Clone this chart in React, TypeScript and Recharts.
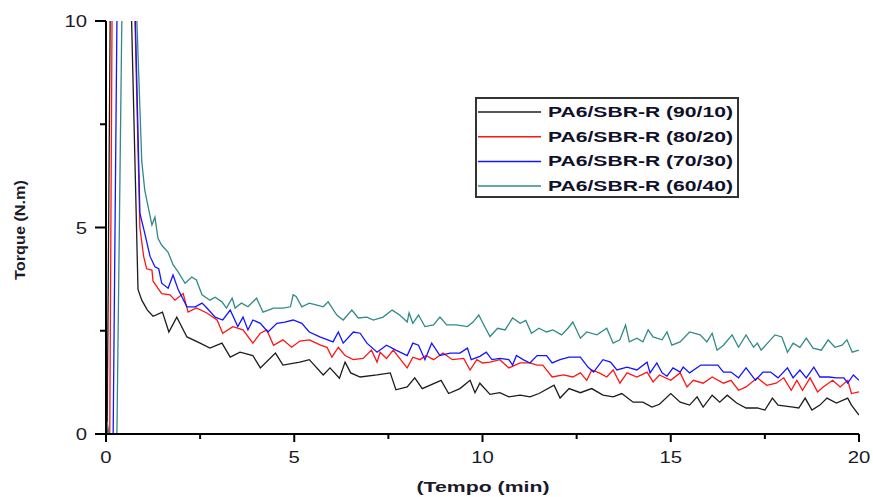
import { LineChart, Line, XAxis, YAxis, Legend } from 'recharts';

// axis ticks (minor ticks every 2.5, labels on the majors)
const X_TICKS = [0, 2.5, 5, 7.5, 10, 12.5, 15, 17.5, 20];
const Y_TICKS = [0, 2.5, 5, 7.5, 10];

const SERIES_NAMES = ['PA6/SBR-R (90/10)', 'PA6/SBR-R (80/20)', 'PA6/SBR-R (70/30)', 'PA6/SBR-R (60/40)'];
const SERIES_COLORS = ['#1c1c1c', '#ff1414', '#1414ff', '#2e8b87'];

// [tempo (min), torque (N.m)]
const torque9010: [number, number][] = [
  [0, 0], [0.03, 0], [0.11, 10], [0.12, 14], [0.66, 14], [0.68, 10], [0.85, 3.5], [0.95, 3.24], [1.1, 3.0],
  [1.25, 2.85], [1.5, 2.95], [1.67, 2.47], [1.88, 2.83], [2.15, 2.35], [2.5, 2.2], [2.76, 2.08], [3.08, 2.2],
  [3.3, 1.86], [3.56, 1.98], [3.9, 1.9], [4.1, 1.6], [4.5, 1.96], [4.7, 1.67], [5.15, 1.74], [5.4, 1.8],
  [5.77, 1.43], [5.95, 1.6], [6.2, 1.35], [6.35, 1.74], [6.5, 1.48], [6.75, 1.38], [7.2, 1.43], [7.55, 1.48],
  [7.7, 1.07], [8.0, 1.14], [8.2, 1.36], [8.4, 1.1], [8.9, 1.3], [9.1, 0.98], [9.4, 1.1], [9.67, 1.3],
  [9.8, 1.0], [9.93, 1.23], [10.2, 0.96], [10.46, 1.0], [10.7, 0.9], [11.0, 0.94], [11.26, 0.9], [11.5, 0.98],
  [11.9, 1.18], [12.06, 0.87], [12.3, 1.1], [12.6, 1.0], [12.9, 1.1], [13.2, 0.94], [13.47, 0.9], [13.7, 0.98],
  [14.0, 0.77], [14.26, 0.77], [14.5, 0.65], [14.7, 0.72], [15.0, 0.98], [15.25, 0.77], [15.5, 0.7],
  [15.7, 0.9], [15.86, 0.65], [16.1, 0.94], [16.3, 0.77], [16.5, 0.94], [16.75, 0.75], [17.0, 0.63],
  [17.3, 0.63], [17.5, 0.58], [17.7, 0.87], [17.85, 0.7], [18.25, 0.65], [18.4, 0.63], [18.57, 0.87],
  [18.75, 0.58], [18.96, 0.7], [19.15, 0.87], [19.4, 0.75], [19.7, 0.87], [19.8, 0.7], [20, 0.46],
];

const torque8020: [number, number][] = [
  [0, 0], [0.1, 0], [0.16, 10], [0.17, 14], [0.75, 14], [0.77, 10], [0.9, 5.0], [1.0, 4.3], [1.08, 4.0],
  [1.22, 3.97], [1.25, 3.7], [1.35, 3.57], [1.48, 3.4], [1.7, 3.37], [1.83, 3.24], [2.05, 3.4], [2.18, 2.95],
  [2.4, 3.05], [2.68, 2.93], [2.95, 2.76], [3.1, 2.44], [3.37, 2.6], [3.64, 2.52], [3.9, 2.2], [4.1, 2.44],
  [4.27, 2.52], [4.45, 2.15], [4.7, 2.28], [4.93, 2.1], [5.15, 2.25], [5.4, 2.28], [5.7, 2.15], [5.87, 2.1],
  [6.0, 1.86], [6.17, 2.1], [6.35, 1.9], [6.57, 1.8], [6.83, 1.83], [7.05, 2.03], [7.2, 1.74], [7.28, 1.98],
  [7.45, 1.83], [7.63, 2.03], [7.8, 1.83], [8.0, 1.6], [8.15, 1.86], [8.34, 1.8], [8.5, 1.9], [8.7, 1.8],
  [8.95, 1.96], [9.2, 1.8], [9.5, 1.83], [9.67, 1.55], [9.85, 1.8], [10.0, 1.72], [10.2, 1.74], [10.46, 1.8],
  [10.7, 1.6], [11.0, 1.72], [11.26, 1.72], [11.45, 1.67], [11.6, 1.67], [11.85, 1.38], [12.15, 1.43],
  [12.4, 1.38], [12.6, 1.48], [12.77, 1.3], [12.9, 1.55], [13.1, 1.48], [13.3, 1.38], [13.47, 1.55],
  [13.65, 1.23], [13.84, 1.48], [14.1, 1.38], [14.37, 1.5], [14.53, 1.26], [14.7, 1.43], [15.0, 1.3],
  [15.25, 1.48], [15.43, 1.14], [15.6, 1.3], [15.86, 1.23], [16.1, 1.38], [16.4, 1.23], [16.6, 1.3],
  [16.8, 1.06], [17.0, 1.14], [17.3, 1.36], [17.55, 1.18], [17.8, 1.23], [18.0, 1.36], [18.2, 1.06],
  [18.35, 1.3], [18.5, 1.06], [18.7, 1.36], [18.9, 1.02], [19.05, 1.14], [19.3, 1.3], [19.5, 1.14],
  [19.7, 1.3], [19.8, 0.98], [20, 1.02],
];

const torque7030: [number, number][] = [
  [0, 0], [0.19, 0], [0.29, 10], [0.3, 14], [0.75, 14], [0.78, 10], [0.9, 5.35], [1.03, 4.86], [1.17, 4.3],
  [1.3, 4.05], [1.4, 4.0], [1.48, 3.65], [1.65, 3.53], [1.78, 3.85], [1.92, 3.49], [2.15, 3.08], [2.37, 3.08],
  [2.55, 3.17], [2.68, 3.05], [2.9, 2.83], [3.1, 2.76], [3.3, 3.0], [3.5, 2.6], [3.64, 2.83], [3.77, 2.52],
  [3.9, 2.76], [4.1, 2.68], [4.3, 2.47], [4.54, 2.68], [4.75, 2.71], [4.97, 2.76], [5.2, 2.68], [5.4, 2.47],
  [5.68, 2.35], [6.03, 2.23], [6.17, 2.47], [6.3, 2.2], [6.57, 2.47], [6.75, 2.44], [6.93, 2.2], [7.2, 1.98],
  [7.45, 2.15], [7.7, 2.03], [8.0, 1.9], [8.15, 2.2], [8.3, 2.15], [8.47, 1.8], [8.65, 2.2], [8.87, 1.9],
  [9.14, 1.96], [9.4, 1.96], [9.6, 2.08], [9.7, 1.8], [9.93, 1.88], [10.1, 1.98], [10.25, 1.8], [10.46, 1.83],
  [10.7, 1.8], [10.8, 1.67], [10.9, 1.9], [11.08, 1.8], [11.26, 1.72], [11.45, 1.9], [11.7, 1.9], [11.85, 1.72],
  [12.06, 1.8], [12.3, 1.86], [12.6, 1.86], [12.8, 1.62], [12.95, 1.5], [13.2, 1.8], [13.4, 1.74],
  [13.57, 1.55], [13.84, 1.62], [14.1, 1.55], [14.37, 1.74], [14.45, 1.48], [14.63, 1.72], [14.77, 1.48],
  [14.9, 1.4], [15.06, 1.6], [15.25, 1.5], [15.33, 1.62], [15.5, 1.48], [15.8, 1.67], [16.05, 1.67],
  [16.25, 1.67], [16.4, 1.5], [16.6, 1.5], [16.8, 1.36], [17.0, 1.6], [17.25, 1.3], [17.45, 1.5],
  [17.65, 1.5], [17.85, 1.36], [18.1, 1.6], [18.25, 1.36], [18.43, 1.55], [18.6, 1.36], [18.8, 1.62],
  [18.96, 1.38], [19.2, 1.38], [19.4, 1.36], [19.6, 1.36], [19.7, 1.23], [19.85, 1.43], [20, 1.3],
];

const torque6040: [number, number][] = [
  [0, 0], [0.03, 0.3], [0.08, 0], [0.29, 0], [0.42, 10], [0.43, 14], [0.8, 14], [0.82, 10], [0.95, 6.6],
  [1.03, 5.9], [1.12, 5.5], [1.22, 5.06], [1.3, 5.25], [1.38, 4.74], [1.48, 4.57], [1.65, 4.4], [1.78, 4.1],
  [1.92, 3.92], [2.1, 3.65], [2.28, 3.8], [2.4, 3.73], [2.55, 3.37], [2.76, 3.24], [2.9, 3.31], [3.08, 3.2],
  [3.2, 3.05], [3.35, 3.29], [3.43, 3.05], [3.6, 3.17], [3.77, 3.08], [4.0, 3.29], [4.17, 2.95], [4.45, 3.05],
  [4.7, 3.05], [4.9, 3.08], [4.97, 3.37], [5.05, 3.33], [5.2, 3.08], [5.4, 3.17], [5.6, 3.12], [5.77, 3.08],
  [5.9, 3.2], [6.13, 2.88], [6.3, 2.76], [6.53, 3.0], [6.7, 2.81], [6.93, 2.83], [7.1, 2.76], [7.36, 2.83],
  [7.6, 3.0], [7.8, 2.88], [8.0, 2.71], [8.05, 2.93], [8.15, 2.68], [8.3, 2.88], [8.47, 2.6], [8.7, 2.64],
  [8.87, 2.83], [9.05, 2.64], [9.3, 2.64], [9.6, 2.6], [9.75, 2.71], [9.9, 2.88], [10.07, 2.58], [10.2, 2.36],
  [10.4, 2.56], [10.6, 2.52], [10.8, 2.81], [11.0, 2.68], [11.15, 2.75], [11.3, 2.44], [11.5, 2.56],
  [11.7, 2.47], [11.87, 2.52], [12.1, 2.4], [12.27, 2.56], [12.4, 2.71], [12.6, 2.32], [12.77, 2.47],
  [13.04, 2.4], [13.3, 2.56], [13.47, 2.2], [13.65, 2.28], [13.8, 2.64], [13.9, 2.23], [14.1, 2.32],
  [14.26, 2.23], [14.4, 2.52], [14.53, 2.35], [14.77, 2.28], [14.9, 2.47], [15.03, 2.15], [15.25, 2.23],
  [15.5, 2.47], [15.78, 2.4], [15.96, 2.23], [16.1, 2.44], [16.23, 2.03], [16.4, 2.15], [16.63, 2.4],
  [16.8, 2.1], [17.0, 2.4], [17.2, 2.1], [17.3, 2.2], [17.4, 2.03], [17.6, 2.23], [17.77, 2.4], [17.95, 2.35],
  [18.1, 1.98], [18.25, 2.2], [18.43, 2.1], [18.6, 2.32], [18.78, 2.08], [19.0, 2.03], [19.18, 2.28],
  [19.36, 2.1], [19.55, 2.15], [19.68, 2.28], [19.82, 1.98], [20, 2.03],
];

const SERIES = [torque9010, torque8020, torque7030, torque6040];
const toRows = (pts: [number, number][]) => pts.map(([t, v]) => ({ t, v }));

const TEXT = '#1a1a2a';
const FONT = '"Liberation Sans", Arial, sans-serif';

function XTick({ x, y, payload }: any) {
  const v = payload.value;
  const major = v % 5 === 0;
  const label = String(v);
  return (
    <g>
      <line x1={x} x2={x} y1={y} y2={y + (major ? 8 : 5)} stroke="#000" strokeWidth={2} />
      {major && (
        <text x={x} y={y + 29} textAnchor="middle" fontSize={16} fill={TEXT} fontFamily={FONT}
          textLength={label.length * 11.3} lengthAdjust="spacingAndGlyphs">{label}</text>
      )}
    </g>
  );
}

function YTick({ x, y, payload }: any) {
  const v = payload.value;
  const major = v % 5 === 0;
  const label = String(v);
  return (
    <g>
      <line x1={x - (major ? 11 : 6)} x2={x} y1={y} y2={y} stroke="#000" strokeWidth={2} />
      {major && (
        <text x={x - 19} y={y + 6} textAnchor="end" fontSize={16} fill={TEXT} fontFamily={FONT}
          textLength={label.length * 11.3} lengthAdjust="spacingAndGlyphs">{label}</text>
      )}
    </g>
  );
}

const XTitle = () => (
  <text x={483} y={492} textAnchor="middle" fontSize={14} fontWeight="bold" fill={TEXT} fontFamily={FONT}
    textLength={133} lengthAdjust="spacingAndGlyphs">(Tempo (min)</text>
);

const YTitle = () => (
  <text x={0} y={0} transform="translate(25,230) rotate(-90)" textAnchor="middle" fontSize={14} fontWeight="bold"
    fill={TEXT} fontFamily={FONT} textLength={100} lengthAdjust="spacingAndGlyphs">Torque (N.m)</text>
);

function LegendBox() {
  return (
    <svg width={265} height={102} style={{ display: 'block' }}>
      <rect x={1} y={1} width={262} height={99} fill="#fff" stroke="#333" strokeWidth={2} />
      {SERIES_NAMES.map((name, i) => {
        const cy = 15 + i * 24.7;
        return (
          <g key={name}>
            <line x1={3} x2={66} y1={cy} y2={cy} stroke={SERIES_COLORS[i]} strokeWidth={1.5} />
            <text x={73} y={cy + 5} fontSize={14} fontWeight="bold" fill="#10102a" fontFamily={FONT}
              textLength={185} lengthAdjust="spacingAndGlyphs">{name}</text>
          </g>
        );
      })}
    </svg>
  );
}

export default function App() {
  return (
    <div style={{ position: 'absolute', left: 0, top: 0, background: '#fff' }}>
      <LineChart width={873} height={497} margin={{ top: 21, right: 14, bottom: 23, left: 6 }}
        style={{ fontFamily: FONT }}>
        <XAxis dataKey="t" type="number" domain={[0, 20]} ticks={X_TICKS} interval={0} height={40}
          allowDataOverflow axisLine={{ stroke: '#000', strokeWidth: 2 }} tickLine={false}
          tickSize={0} tickMargin={0} tick={<XTick />} label={XTitle} />
        <YAxis type="number" domain={[0, 10]} ticks={Y_TICKS} interval={0} width={100}
          allowDataOverflow axisLine={{ stroke: '#000', strokeWidth: 2 }} tickLine={false}
          tickSize={0} tickMargin={0} tick={<YTick />} label={YTitle} />
        <Legend layout="vertical" align="center" verticalAlign="middle" width={265} height={102}
          wrapperStyle={{ left: 475, top: 97 }} content={() => <LegendBox />} />
        {SERIES.map((pts, i) => (
          <Line key={SERIES_NAMES[i]} name={SERIES_NAMES[i]} data={toRows(pts)} dataKey="v" type="linear"
            stroke={SERIES_COLORS[i]} strokeWidth={1.3} dot={false} activeDot={false}
            isAnimationActive={false} />
        ))}
      </LineChart>
    </div>
  );
}
